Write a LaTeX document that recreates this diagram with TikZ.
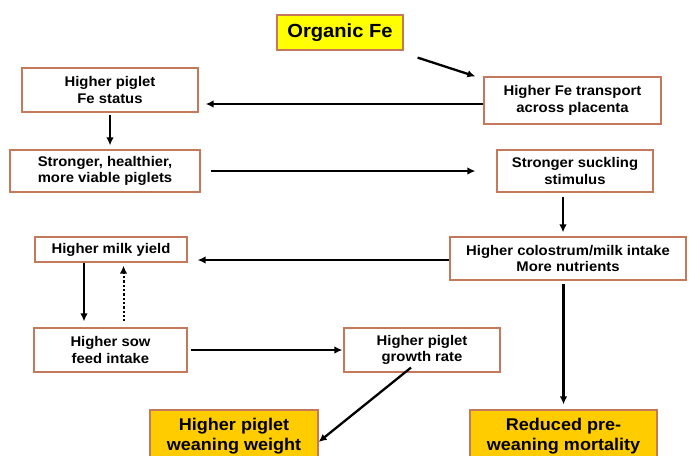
\documentclass[tikz,border=0pt]{standalone}
\usepackage{fontspec}
\setmainfont{Liberation Sans}
\newfontfamily\boxfont{Liberation Sans}[FakeStretch=1.06]
\usetikzlibrary{arrows.meta, positioning}
\definecolor{boxedge}{RGB}{196, 120, 92}
\definecolor{orgyellow}{RGB}{255, 255, 0}
\definecolor{goldbox}{RGB}{255, 204, 0}

\begin{document}
\begin{tikzpicture}[x=1pt, y=-1pt,
    stepbox/.style={draw=boxedge, line width=1.2pt, fill=white, align=center,
        font=\boxfont\bfseries\fontsize{14}{16.5}\selectfont, inner sep=1pt},
    goalbox/.style={stepbox, fill=goldbox, font=\boxfont\bfseries\fontsize{17}{19.5}\selectfont},
    flow/.style={-{Latex[length=8pt, width=7.5pt]}, line width=2.3pt}]
    \clip (0,0) rectangle (690,455);

    % Source
    \node[stepbox, fill=orgyellow, font=\boxfont\bfseries\fontsize{19}{22}\selectfont,
        minimum width=126pt, minimum height=35pt] (orgfe) at (340,32.5) {Organic Fe};

    % Upper chain
    \node[stepbox, minimum width=177pt, minimum height=47pt] (placenta) at (572.5,100.5)
        {Higher Fe transport\\across placenta};
    \node[stepbox, minimum width=176pt, minimum height=44pt] (festatus) at (110,90)
        {Higher piglet\\Fe status};
    \node[stepbox, minimum width=190pt, minimum height=42pt] (viable) at (105,171)
        {Stronger, healthier,\\more viable piglets};
    \node[stepbox, minimum width=156pt, minimum height=42pt] (suckling) at (575,171)
        {Stronger suckling\\stimulus};
    \node[stepbox, minimum width=236pt, minimum height=43pt] (colostrum) at (568,258.5)
        {Higher colostrum/milk intake\\More nutrients};

    % Sow loop
    \node[stepbox, minimum width=152pt, minimum height=25pt] (milkyield) at (111,249.5)
        {Higher milk yield};
    \node[stepbox, minimum width=153pt, minimum height=44pt] (sowfeed) at (110.5,350)
        {Higher sow\\feed intake};
    \node[stepbox, minimum width=156pt, minimum height=44pt] (growth) at (422,350)
        {Higher piglet\\growth rate};

    % Outcomes
    \node[goalbox, minimum width=168pt, minimum height=52pt] (weanweight) at (234,436)
        {Higher piglet\\weaning weight};
    \node[goalbox, minimum width=187pt, minimum height=52pt] (mortality) at (563.5,436)
        {Reduced pre-\\weaning mortality};

    % Arrows
    \draw[flow] ([xshift=14pt,yshift=-7pt]orgfe.south east) -- ([xshift=-8pt]placenta.north west);
    \draw[flow, shorten >=7pt] ([yshift=-3.5pt]placenta.west) -- ([yshift=-3.5pt]placenta.west -| festatus.east);
    \draw[flow, shorten <=2pt, shorten >=4pt] (festatus.south) -- (festatus.south |- viable.north);
    \draw[flow, shorten <=10pt, shorten >=21pt] (viable.east) -- (viable.east -| suckling.west);
    \draw[flow, shorten <=4pt, shorten >=4pt] ([xshift=-12pt]suckling.south) -- ([xshift=-12pt]suckling.south |- colostrum.north);
    \draw[flow, shorten >=10pt] ([yshift=-1.5pt]colostrum.west) -- ([yshift=-1.5pt]colostrum.west -| milkyield.east);
    \draw[flow, shorten >=6pt] ([xshift=-27pt]milkyield.south) -- ([xshift=-27pt]milkyield.south |- sowfeed.north);
    \draw[flow, dotted, line width=2pt, shorten <=6pt, shorten >=3pt] ([xshift=12.5pt]milkyield.south |- sowfeed.north) -- ([xshift=12.5pt]milkyield.south);
    \draw[flow, shorten <=3pt, shorten >=1pt] (sowfeed.east) -- (growth.west);
    \draw[flow] ([xshift=-11pt,yshift=5pt]growth.south) -- ([yshift=-6pt]weanweight.east);
    \draw[flow, shorten <=3pt, shorten >=5pt] (colostrum.south -| mortality.north) -- (mortality.north);
\end{tikzpicture}
\end{document}
